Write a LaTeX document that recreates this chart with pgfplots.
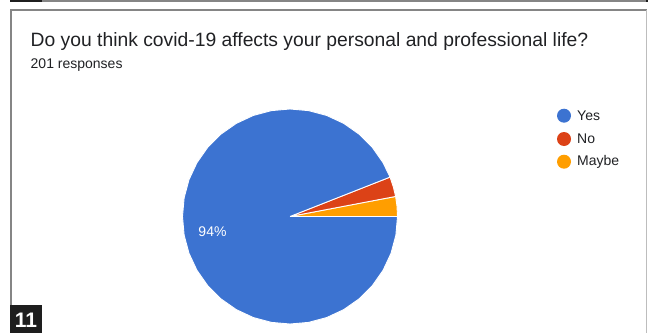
\documentclass[border=0pt]{standalone}
\usepackage{fontspec}
\setmainfont{Liberation Sans}
\usepackage{pgfplots}
\pgfplotsset{compat=1.18}
\usepgfplotslibrary{polar}
\definecolor{yescol}{HTML}{3C73D1}
\definecolor{nocol}{HTML}{DC4217}
\definecolor{maybecol}{HTML}{FF9E00}
\definecolor{titlecol}{HTML}{202124}
\definecolor{framecol}{HTML}{858585}
\definecolor{framelight}{HTML}{BDBDBD}
\definecolor{darkbox}{HTML}{1E1E1E}
\begin{document}
\begin{tikzpicture}[x=1bp,y=1bp]
\useasboundingbox (0,0) rectangle (648,333);
% frame
\fill[framecol] (42,331) rectangle (646,333);
\fill[darkbox] (10,330.5) rectangle (42,333);
\fill[darkbox] (645.5,331) rectangle (648,333);
\draw[framecol,line width=1.6bp] (11,28) -- (11,323) -- (646.5,323);
\draw[framelight,line width=1bp] (646.5,323) -- (646.5,0);
\fill[darkbox] (10,0) rectangle (42,28);
\node[text=white,font=\fontsize{21bp}{24bp}\selectfont\bfseries,inner sep=0] at (26,12.5) {11};
% titles
\node[anchor=base west,inner sep=0,text=titlecol,font=\fontsize{19.3bp}{23bp}\selectfont] at (30.5,286.5) {Do you think covid-19 affects your personal and professional life?};
\node[anchor=base west,inner sep=0,text=titlecol,font=\fontsize{14bp}{17bp}\selectfont] at (30.5,265) {201 responses};
% pie
\begin{polaraxis}[at={(290bp,116.5bp)}, anchor=origin, width=215bp, height=215bp,
  scale only axis, hide axis, xmin=0, xmax=360, ymin=0, ymax=1, clip=false]
% Maybe: 6 of 201
\addplot[fill=maybecol, draw=white, line width=0.9bp] coordinates {(0,0) (0,1) (5.4,1) (10.75,1) (0,0)};
% No: 6 of 201
\addplot[fill=nocol, draw=white, line width=0.9bp] coordinates {(0,0) (10.75,1) (16.1,1) (21.5,1) (0,0)};
% Yes: 189 of 201
\addplot[fill=yescol, draw=white, line width=0.9bp] coordinates {(0,0) (21.5,1) (30,1) (40,1) (50,1) (60,1) (70,1) (80,1) (90,1) (100,1) (110,1) (120,1) (130,1) (140,1) (150,1) (160,1) (170,1) (180,1) (190,1) (200,1) (210,1) (220,1) (230,1) (240,1) (250,1) (260,1) (270,1) (280,1) (290,1) (300,1) (310,1) (320,1) (330,1) (340,1) (350,1) (360,1) (0,0)};
\end{polaraxis}
\node[text=white,inner sep=0,font=\fontsize{14bp}{17bp}\selectfont] at (212.5,101) {94\%};
% legend
\fill[yescol] (564,217.3) circle (7);
\fill[nocol] (564,194) circle (7);
\fill[maybecol] (564,171.3) circle (7);
\node[anchor=west,inner sep=0,text=titlecol,font=\fontsize{14bp}{17bp}\selectfont] at (577,217.3) {Yes};
\node[anchor=west,inner sep=0,text=titlecol,font=\fontsize{14bp}{17bp}\selectfont] at (577,194) {No};
\node[anchor=west,inner sep=0,text=titlecol,font=\fontsize{14bp}{17bp}\selectfont] at (577,171.3) {Maybe};
\end{tikzpicture}
\end{document}
